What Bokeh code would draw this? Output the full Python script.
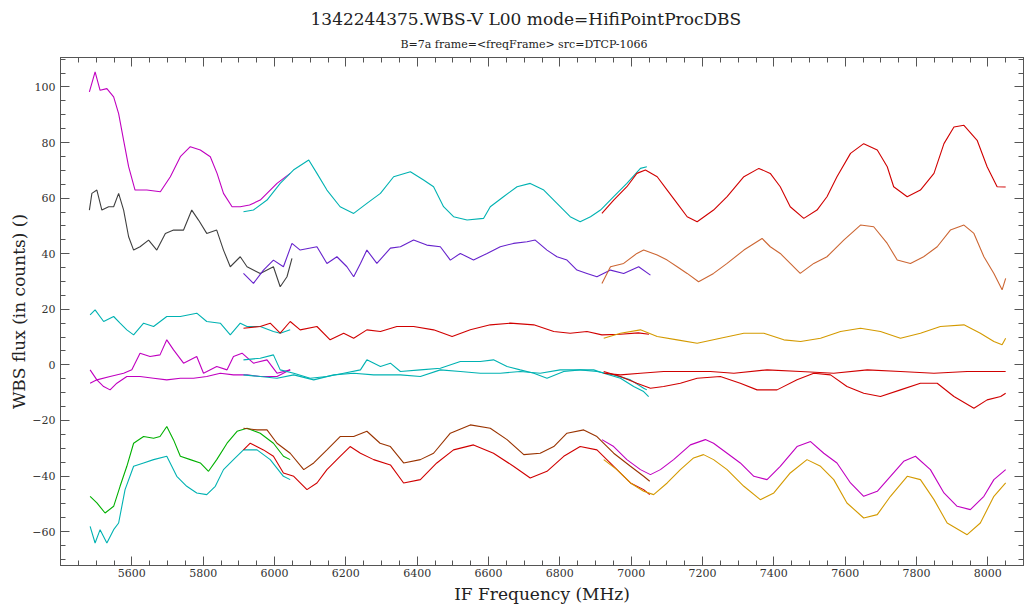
from bokeh.plotting import figure
from bokeh.models import LinearAxis, Title, Range1d, FixedTicker
from bokeh.embed import file_html
from bokeh.resources import INLINE

# ---------------- data ----------------
# top group
mag_top_x = [5481, 5497, 5511, 5530, 5549, 5563, 5577, 5591, 5609, 5642, 5680, 5708, 5736, 5764, 5792, 5820, 5839, 5857, 5881, 5904, 5930, 5960, 6007, 6044]
mag_top_y = [98.2, 105.4, 98.8, 99.4, 96.4, 90.4, 80.8, 71.3, 62.9, 62.9, 62.3, 67.7, 74.9, 78.5, 77.3, 74.9, 68.9, 61.7, 56.9, 56.9, 57.5, 59.3, 65.3, 68.9]

cyan_top_x = [5913, 5941, 5979, 6016, 6053, 6096, 6119, 6147, 6184, 6222, 6259, 6297, 6334, 6381, 6418, 6446, 6474, 6502, 6540, 6586, 6605, 6642, 6680, 6717, 6755, 6792, 6829, 6857, 6886, 6914, 6951, 6988, 7026, 7044]
cyan_top_y = [55.1, 55.7, 59.3, 65.3, 70.1, 73.7, 68.9, 62.9, 56.9, 54.5, 58.1, 61.7, 67.7, 69.5, 66.5, 64.1, 56.9, 53.3, 52.1, 52.7, 56.9, 60.5, 64.1, 65.3, 62.9, 58.1, 53.3, 51.5, 53.3, 55.7, 60.5, 65.3, 70.7, 71.3]

red_top_x = [6918, 6951, 6988, 7016, 7040, 7073, 7101, 7129, 7157, 7185, 7231, 7269, 7316, 7358, 7390, 7418, 7446, 7484, 7521, 7549, 7577, 7615, 7652, 7690, 7718, 7736, 7774, 7811, 7849, 7877, 7905, 7933, 7970, 7998, 8026, 8050]
red_top_y = [54.5, 59.3, 64.1, 68.9, 70.1, 67.7, 62.9, 58.1, 53.3, 51.5, 55.7, 60.5, 67.7, 70.7, 68.9, 64.1, 56.9, 52.7, 55.7, 60.5, 67.7, 76.1, 79.6, 77.3, 71.3, 64.1, 60.5, 62.9, 68.9, 79.6, 85.6, 86.2, 80.8, 71.3, 64.1, 64.0]

# second group
gray_2_x = [5481, 5488, 5502, 5516, 5535, 5549, 5563, 5577, 5591, 5605, 5623, 5647, 5670, 5694, 5717, 5745, 5768, 5787, 5810, 5838, 5857, 5876, 5904, 5923, 5960, 5997, 6016, 6035, 6049]
gray_2_y = [55.7, 61.7, 62.9, 55.7, 56.9, 56.9, 61.7, 55.7, 46.1, 41.3, 42.5, 44.9, 41.3, 47.3, 48.5, 48.5, 55.7, 52.1, 47.3, 48.5, 41.3, 35.3, 38.9, 35.3, 32.9, 35.3, 28.1, 31.7, 38.3]

purple_2_x = [5913, 5941, 5969, 5997, 6025, 6049, 6072, 6119, 6147, 6175, 6203, 6222, 6241, 6259, 6287, 6325, 6353, 6390, 6427, 6465, 6493, 6521, 6558, 6596, 6633, 6670, 6708, 6731, 6764, 6792, 6820, 6848, 6876, 6904, 6942, 6979, 7021, 7054]
purple_2_y = [32.9, 29.3, 34.1, 37.7, 35.3, 43.7, 41.3, 42.5, 36.5, 38.9, 35.3, 31.7, 36.5, 41.3, 36.5, 42.0, 42.5, 44.9, 43.1, 42.5, 37.7, 40.1, 37.7, 40.1, 42.5, 43.7, 44.3, 44.9, 41.3, 38.9, 37.7, 34.1, 32.9, 31.7, 34.1, 32.9, 35.3, 32.3]

orange_2_x = [6918, 6942, 6979, 7016, 7035, 7073, 7101, 7129, 7157, 7189, 7231, 7269, 7316, 7367, 7390, 7418, 7446, 7474, 7512, 7549, 7596, 7643, 7680, 7718, 7746, 7783, 7820, 7858, 7895, 7933, 7961, 7989, 8017, 8040, 8050]
orange_2_y = [29.3, 35.3, 36.5, 40.1, 41.3, 39.5, 37.7, 35.3, 32.9, 29.9, 32.9, 36.5, 41.3, 45.5, 42.5, 40.1, 36.5, 32.9, 36.5, 38.9, 44.9, 50.3, 49.7, 43.7, 37.7, 36.5, 38.9, 42.5, 48.5, 50.3, 47.3, 38.9, 32.9, 27.0, 31.1]

# third group
cyan_3_x = [5483, 5497, 5521, 5549, 5567, 5586, 5605, 5633, 5661, 5698, 5736, 5782, 5810, 5848, 5876, 5904, 5923, 5960, 5997, 6016, 6044]
cyan_3_y = [18.0, 19.8, 15.6, 17.4, 15.0, 12.6, 10.8, 15.0, 13.8, 17.4, 17.4, 18.6, 15.6, 15.0, 10.8, 15.0, 13.8, 13.8, 12.0, 11.4, 12.6]

red_3_x = [5913, 5960, 5988, 6016, 6044, 6072, 6119, 6156, 6194, 6222, 6259, 6297, 6343, 6390, 6446, 6498, 6549, 6605, 6661, 6727, 6783, 6829, 6876, 6918, 6970, 7020, 7050]
red_3_y = [13.2, 13.8, 15.0, 11.4, 15.6, 12.6, 13.8, 9.0, 11.4, 9.6, 12.6, 12.0, 13.8, 13.8, 12.6, 10.2, 12.6, 14.4, 15.0, 14.4, 12.0, 11.4, 12.0, 10.8, 11.0, 11.5, 11.0]

gold_3_x = [6923, 6970, 7026, 7073, 7129, 7185, 7250, 7316, 7372, 7428, 7475, 7531, 7587, 7643, 7699, 7755, 7811, 7867, 7933, 7979, 8017, 8040, 8050]
gold_3_y = [9.6, 11.4, 12.6, 10.2, 9.0, 7.8, 9.6, 11.4, 11.4, 9.0, 8.4, 9.6, 12.0, 13.2, 12.0, 9.6, 11.4, 13.8, 14.4, 11.4, 8.4, 7.2, 9.6]

# zero group
mag_0a_x = [5483, 5502, 5521, 5539, 5558, 5586, 5623, 5661, 5698, 5736, 5773, 5810, 5848, 5885, 5923, 5960, 6007, 6044]
mag_0a_y = [-6.6, -5.4, -7.8, -9.0, -6.6, -4.2, -4.2, -4.8, -5.4, -4.8, -4.8, -4.2, -3.0, -3.6, -3.6, -4.2, -4.2, -1.8]

mag_0b_x = [5483, 5502, 5539, 5577, 5600, 5623, 5651, 5679, 5698, 5717, 5745, 5782, 5801, 5838, 5867, 5885, 5909, 5941, 5979, 6007, 6044]
mag_0b_y = [-1.8, -5.4, -4.2, -3.0, -1.8, 4.2, 3.0, 3.6, 9.0, 5.4, 0.6, 3.0, -3.0, -0.6, -1.8, 3.0, 4.2, 0.6, 1.8, -3.0, -1.8]

cyan_0a_x = [5913, 5960, 5997, 6016, 6054, 6100, 6147, 6194, 6241, 6259, 6297, 6325, 6353, 6409, 6465, 6521, 6577, 6614, 6652, 6689, 6727, 6764, 6811, 6857, 6895, 6923, 6970, 7007, 7035, 7049]
cyan_0a_y = [1.8, 2.4, 3.6, -1.8, -3.0, -4.8, -4.2, -3.0, -1.8, 1.8, -0.6, 0.6, -2.4, -1.8, -1.2, 1.2, 1.2, 1.8, -0.6, -1.8, -3.0, -4.8, -2.4, -1.8, -1.8, -3.0, -4.8, -7.8, -9.6, -11.4]

cyan_0b_x = [5913, 5960, 6007, 6054, 6110, 6166, 6222, 6278, 6325, 6353, 6409, 6465, 6521, 6577, 6633, 6689, 6745, 6801, 6857, 6904, 6951, 6998, 7035, 7044]
cyan_0b_y = [-3.6, -4.2, -4.8, -3.6, -5.4, -3.6, -3.0, -3.6, -3.6, -3.6, -4.2, -1.8, -2.4, -3.0, -3.0, -2.4, -3.0, -1.8, -1.8, -2.4, -3.6, -5.4, -8.4, -9.0]

red_0a_x = [6923, 6970, 7026, 7091, 7157, 7222, 7288, 7381, 7475, 7568, 7662, 7755, 7849, 7942, 8050]
red_0a_y = [-3.0, -3.6, -3.0, -2.4, -2.4, -2.4, -3.0, -1.8, -2.4, -3.0, -1.8, -2.4, -3.0, -2.4, -2.4]

red_0b_x = [6923, 6970, 7016, 7054, 7091, 7138, 7185, 7250, 7306, 7353, 7409, 7465, 7512, 7559, 7605, 7652, 7699, 7755, 7811, 7858, 7905, 7961, 7998, 8036, 8050]
red_0b_y = [-2.4, -4.2, -6.6, -8.4, -7.8, -6.6, -4.8, -4.2, -6.6, -9.0, -9.0, -5.4, -3.0, -3.6, -7.8, -10.2, -11.4, -9.0, -6.6, -6.6, -11.4, -15.6, -12.6, -11.4, -10.2]

# bottom group
green_b_x = [5483, 5502, 5525, 5549, 5567, 5586, 5605, 5633, 5661, 5679, 5698, 5717, 5736, 5764, 5792, 5815, 5838, 5867, 5895, 5923, 5960, 5997, 6025, 6044]
green_b_y = [-47.3, -49.7, -53.3, -50.9, -43.7, -36.5, -28.2, -25.8, -26.4, -25.8, -22.2, -27.0, -32.9, -34.1, -35.3, -38.3, -34.1, -28.2, -23.9, -22.8, -24.6, -28.2, -32.9, -34.1]

cyan_b_x = [5483, 5497, 5511, 5530, 5549, 5563, 5581, 5605, 5633, 5661, 5698, 5726, 5754, 5782, 5810, 5834, 5857, 5885, 5913, 5951, 5988, 6025, 6044]
cyan_b_y = [-58.1, -64.1, -59.3, -64.1, -59.3, -56.9, -44.9, -36.5, -35.3, -34.1, -32.9, -40.1, -43.7, -46.1, -46.7, -43.7, -37.7, -34.1, -30.6, -30.6, -34.1, -40.1, -41.3]

brown_b_x = [5913, 5951, 5979, 6007, 6044, 6082, 6110, 6147, 6184, 6222, 6259, 6296, 6325, 6362, 6409, 6446, 6493, 6549, 6605, 6652, 6699, 6745, 6783, 6820, 6867, 6904, 6951, 6998, 7035, 7052]
brown_b_y = [-22.8, -23.4, -23.4, -28.2, -31.8, -37.7, -35.3, -30.6, -25.8, -25.8, -23.9, -28.2, -29.4, -35.3, -34.1, -31.8, -24.6, -21.6, -22.8, -26.9, -32.3, -31.8, -29.4, -24.6, -23.4, -25.8, -31.8, -36.5, -40.1, -41.9]

red_b_x = [5913, 5932, 5969, 5997, 6025, 6054, 6091, 6119, 6147, 6184, 6212, 6241, 6278, 6325, 6362, 6409, 6455, 6502, 6558, 6614, 6670, 6717, 6764, 6811, 6857, 6904, 6951, 6998, 7035, 7052]
red_b_y = [-30.6, -28.2, -30.6, -32.9, -38.9, -40.1, -44.9, -42.5, -37.7, -32.9, -29.4, -31.8, -34.1, -36.0, -42.5, -41.3, -35.3, -30.6, -28.8, -31.8, -36.5, -40.7, -38.3, -32.9, -29.4, -30.6, -36.5, -42.5, -44.9, -46.7]

mag_b_x = [6918, 6951, 6988, 7026, 7054, 7082, 7119, 7166, 7208, 7231, 7269, 7306, 7344, 7381, 7418, 7465, 7503, 7540, 7577, 7615, 7652, 7690, 7727, 7764, 7797, 7839, 7877, 7914, 7951, 7989, 8017, 8050]
mag_b_y = [-26.9, -29.4, -34.1, -37.7, -39.5, -37.7, -34.1, -28.8, -26.9, -28.2, -31.8, -35.3, -40.1, -41.3, -36.5, -29.4, -27.6, -31.8, -35.3, -42.5, -47.3, -45.5, -40.1, -34.7, -32.9, -37.7, -46.1, -50.9, -52.1, -47.3, -41.3, -37.7]

gold_b_x = [6923, 6960, 6998, 7035, 7063, 7101, 7138, 7175, 7203, 7231, 7269, 7316, 7362, 7400, 7446, 7493, 7531, 7568, 7605, 7652, 7690, 7727, 7774, 7811, 7849, 7886, 7942, 7979, 8017, 8050]
gold_b_y = [-34.1, -37.7, -42.5, -45.5, -46.7, -42.5, -37.7, -33.5, -32.3, -34.1, -37.7, -43.7, -48.5, -46.1, -38.9, -34.1, -36.5, -41.3, -49.7, -55.1, -53.9, -47.3, -40.1, -41.3, -48.5, -56.9, -61.1, -56.9, -47.3, -42.5]

# ticks
x_major = [5600, 5800, 6000, 6200, 6400, 6600, 6800, 7000, 7200, 7400, 7600, 7800, 8000]
y_major = [-60, -40, -20, 0, 20, 40, 60, 80, 100]

# ---------------- colours ----------------
MAG = "#c000c0"
CYAN = "#00b2b2"
RED = "#d00000"
GRAY = "#404040"
PURPLE = "#6622cc"
ORANGE = "#cc6633"
GOLD = "#d49a00"
GREEN = "#00b000"
BROWN = "#993300"

series = [
    (mag_top_x, mag_top_y, MAG), (gray_2_x, gray_2_y, GRAY), (cyan_3_x, cyan_3_y, CYAN),
    (mag_0a_x, mag_0a_y, MAG), (mag_0b_x, mag_0b_y, MAG),
    (green_b_x, green_b_y, GREEN), (cyan_b_x, cyan_b_y, CYAN),
    (cyan_top_x, cyan_top_y, CYAN), (purple_2_x, purple_2_y, PURPLE), (red_3_x, red_3_y, RED),
    (cyan_0a_x, cyan_0a_y, CYAN), (cyan_0b_x, cyan_0b_y, CYAN),
    (brown_b_x, brown_b_y, BROWN), (red_b_x, red_b_y, RED),
    (red_top_x, red_top_y, RED), (orange_2_x, orange_2_y, ORANGE), (gold_3_x, gold_3_y, GOLD),
    (red_0a_x, red_0a_y, RED), (red_0b_x, red_0b_y, RED),
    (mag_b_x, mag_b_y, MAG), (gold_b_x, gold_b_y, GOLD),
]

FONT = "DejaVu Serif"
AX = "#555555"

p = figure(width=1027, height=606,
           x_range=Range1d(5400, 8100), y_range=Range1d(-72.2, 110.6),
           output_backend="svg", toolbar_location=None,
           min_border_left=60, min_border_right=4, min_border_top=57, min_border_bottom=39)
p.xgrid.visible = False
p.ygrid.visible = False
p.outline_line_color = AX
p.background_fill_color = "white"
p.border_fill_color = "white"

for xs, ys, c in series:
    p.line(xs, ys, line_color=c, line_width=1.1)

x_minor = list(range(5400, 8101, 50))
y_minor = list(range(-70, 111, 5))


def style(ax, ticks, minor, show):
    ax.ticker = FixedTicker(ticks=ticks, minor_ticks=minor)
    ax.axis_line_color = AX
    ax.major_tick_line_color = AX
    ax.minor_tick_line_color = AX
    ax.major_tick_in = 9
    ax.major_tick_out = 0
    ax.minor_tick_in = 5
    ax.minor_tick_out = 0
    ax.major_label_text_font = FONT
    ax.major_label_text_color = "#333333" if show else None
    ax.major_label_text_font_size = "11px" if show else "1px"
    if not show:
        ax.major_label_standoff = 0


xb = p.xaxis[0]
style(xb, x_major, x_minor, True)
xb.major_label_standoff = 3
xb.axis_label = "IF Frequency (MHz)"
xb.axis_label_text_font = FONT
xb.axis_label_text_font_size = "17px"
xb.axis_label_text_font_style = "normal"
xb.axis_label_text_color = "#222222"
xb.axis_label_standoff = 4

yl = p.yaxis[0]
style(yl, y_major, y_minor, True)
yl.major_label_standoff = 5
yl.axis_label = "WBS flux (in counts) ()"
yl.axis_label_text_font = FONT
yl.axis_label_text_font_size = "17px"
yl.axis_label_text_font_style = "normal"
yl.axis_label_text_color = "#222222"
yl.axis_label_standoff = 0

xt = LinearAxis()
style(xt, x_major, x_minor, False)
p.add_layout(xt, "above")
yr = LinearAxis()
style(yr, y_major, y_minor, False)
p.add_layout(yr, "right")

sub = Title(text="B=7a frame=<freqFrame> src=DTCP-1066", align="left",
            text_font=FONT, text_font_size="11px", text_font_style="normal",
            text_color="#222222", standoff=11, offset=340, vertical_align="middle")
p.add_layout(sub, "above")
main = Title(text="1342244375.WBS-V L00 mode=HifiPointProcDBS", align="left",
             text_font=FONT, text_font_size="17px", text_font_style="normal",
             text_color="#222222", standoff=5, offset=250)
p.add_layout(main, "above")

open("out.html", "w").write(file_html(p, INLINE))
